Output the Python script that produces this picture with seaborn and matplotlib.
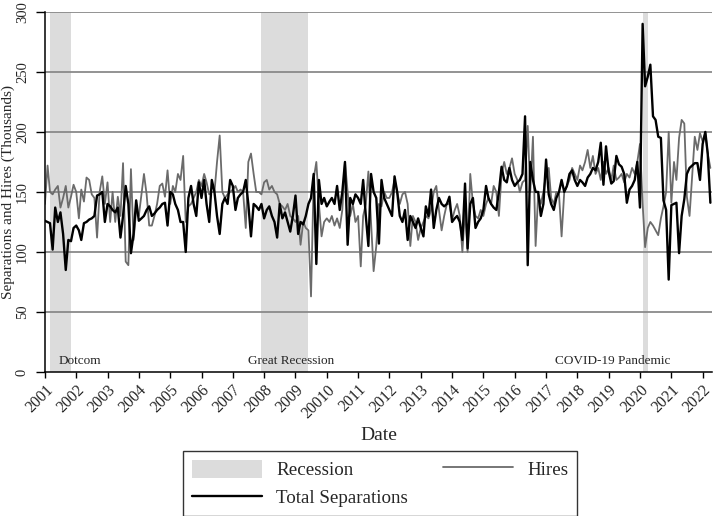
import pandas as pd
import matplotlib
matplotlib.use("Agg")
import matplotlib.pyplot as plt
from matplotlib.patches import Patch
from matplotlib.lines import Line2D
import seaborn as sns

# monthly values, Jan 2001 - Apr 2022 (thousands)
hires = [
    140, 172, 150, 148, 152, 155, 137, 145, 155, 137, 146, 156,  # 2001
    150, 128, 152, 142, 162, 160, 148, 145, 112, 150, 163, 140,  # 2002
    158, 125, 150, 125, 146, 130, 174, 92, 89, 169, 110, 135,    # 2003
    130, 148, 165, 148, 122, 122, 130, 140, 155, 157, 146, 168,  # 2004
    140, 155, 150, 165, 160, 180, 125, 138, 140, 145, 150, 160,  # 2005
    155, 165, 158, 148, 150, 150, 175, 197, 150, 145, 148, 150,  # 2006
    152, 155, 150, 152, 150, 120, 175, 182, 165, 150, 150, 148,  # 2007
    158, 160, 152, 155, 150, 148, 140, 138, 135, 140, 130, 128,  # 2008
    125, 130, 106, 125, 120, 118, 63, 161, 175, 140, 113, 125,   # 2009
    128, 125, 130, 122, 128, 120, 135, 175, 150, 130, 140, 125,  # 2010
    130, 88, 130, 140, 167, 125, 84, 105, 140, 138, 150, 145,    # 2011
    145, 150, 160, 150, 140, 148, 150, 140, 105, 130, 125, 110,  # 2012
    120, 125, 130, 128, 135, 150, 155, 135, 118, 130, 140, 140,  # 2013
    127, 135, 140, 130, 100, 135, 100, 165, 140, 130, 128, 135,  # 2014
    130, 140, 145, 140, 155, 150, 130, 165, 175, 165, 170, 178,  # 2015
    165, 160, 150, 158, 160, 205, 150, 196, 105, 148, 140, 150,  # 2016
    165, 170, 145, 140, 150, 148, 113, 150, 155, 160, 170, 165,  # 2017
    160, 172, 168, 175, 185, 170, 180, 165, 170, 160, 175, 165,  # 2018
    170, 160, 172, 160, 162, 165, 158, 165, 162, 170, 165, 175,  # 2019
    190, 140, 104, 120, 125, 122, 118, 114, 128, 138, 150, 200,  # 2020
    141, 175, 160, 195, 210, 207, 146, 130, 163, 196, 185, 199,  # 2021
    192, 199, 182, 170,                                          # 2022
]
separations = [
    126, 125, 124, 102, 137, 125, 133, 115, 85, 110, 109, 120,   # 2001
    122, 118, 110, 124, 125, 127, 128, 130, 147, 148, 150, 125,  # 2002
    140, 138, 135, 133, 137, 112, 130, 155, 140, 99, 115, 143,   # 2003
    126, 128, 130, 135, 138, 130, 132, 135, 137, 140, 141, 122,  # 2004
    150, 148, 140, 135, 125, 125, 100, 145, 155, 140, 130, 158,  # 2005
    145, 160, 140, 125, 160, 150, 130, 115, 140, 145, 140, 160,  # 2006
    155, 135, 145, 148, 150, 160, 140, 113, 140, 138, 135, 140,  # 2007
    128, 135, 138, 130, 125, 112, 140, 128, 133, 125, 117, 130,  # 2008
    147, 115, 125, 123, 130, 140, 145, 165, 90, 160, 140, 145,   # 2009
    138, 142, 145, 140, 155, 135, 150, 175, 106, 145, 140, 148,  # 2010
    145, 140, 160, 130, 105, 165, 150, 145, 107, 160, 145, 140,  # 2011
    135, 130, 163, 150, 130, 125, 135, 110, 130, 125, 120, 128,  # 2012
    120, 113, 138, 130, 152, 120, 135, 145, 140, 138, 140, 146,  # 2013
    125, 128, 130, 125, 110, 157, 103, 140, 145, 120, 125, 128,  # 2014
    135, 155, 145, 140, 137, 135, 150, 171, 160, 158, 170, 160,  # 2015
    155, 158, 160, 165, 213, 89, 175, 160, 150, 150, 130, 140,   # 2016
    177, 148, 140, 135, 145, 150, 160, 150, 155, 165, 168, 160,  # 2017
    155, 160, 158, 155, 162, 165, 170, 168, 175, 191, 156, 188,  # 2018
    167, 157, 159, 180, 173, 171, 165, 141, 152, 155, 160, 175,  # 2019
    137, 290, 238, 246, 256, 213, 210, 196, 195, 143, 135, 77,   # 2020
    139, 140, 141, 99, 130, 144, 165, 170, 172, 174, 174, 160,   # 2021
    190, 200, 182, 141,                                          # 2022
]

recession_names = ["Dotcom", "Great Recession", "COVID-19 Pandemic"]
recession_start = ["2001-03-01", "2007-12-01", "2020-02-01"]
recession_end = ["2001-11-01", "2009-06-01", "2020-04-01"]
label_x = ["2002-02-15", "2008-11-15", "2019-02-15"]

years = list(range(2001, 2023))
year_labels = [str(y) for y in years]
year_labels[years.index(2010)] = "20010"  # as printed on the original

dates = pd.date_range("2001-01-01", periods=len(hires), freq="MS")
df = pd.DataFrame({"date": dates, "Hires": hires, "Total Separations": separations})

sns.set_style("white")
plt.rcParams["font.family"] = ["Liberation Serif", "DejaVu Serif"]

fig = plt.figure(figsize=(7.13, 5.16), dpi=100)
ax = fig.add_axes([0.063, 0.279, 0.9356, 0.698])

for s, e in zip(recession_start, recession_end):
    ax.axvspan(pd.Timestamp(s), pd.Timestamp(e), color="#dcdcdc", lw=0, zorder=0)

for y in range(50, 301, 50):
    ax.axhline(y, color="#8a8a8a", lw=1.3, zorder=1)

sns.lineplot(data=df, x="date", y="Hires", color="#6b6b6b", lw=1.3, ax=ax, zorder=2)
sns.lineplot(data=df, x="date", y="Total Separations", color="black", lw=1.7, ax=ax, zorder=3)

for name, lx in zip(recession_names, label_x):
    ax.text(pd.Timestamp(lx), 9, name, ha="center", va="center", fontsize=9.5)

ax.set_ylim(0, 300)
ax.set_xlim(dates[0], pd.Timestamp("2022-04-20"))
ax.set_yticks(range(0, 301, 50))
ax.set_yticklabels([str(v) for v in range(0, 301, 50)], rotation=90, va="center")
ax.set_xticks([pd.Timestamp(f"{y}-01-01") for y in years])
ax.set_xticklabels(year_labels, rotation=45, ha="right", rotation_mode="anchor")
ax.tick_params(axis="both", direction="out", width=1, color="black",
               left=True, bottom=True)
ax.tick_params(axis="x", length=4.5, pad=2.5, labelsize=11.5)
ax.tick_params(axis="y", length=6.5, pad=5, labelsize=10.5)

ax.set_xlabel("Date", fontsize=14, labelpad=4)
ax.set_ylabel("Separations and Hires (Thousands)", fontsize=11, labelpad=1)

ax.spines["top"].set_visible(False)
ax.spines["right"].set_visible(False)
ax.spines["left"].set_color("black")
ax.spines["bottom"].set_color("black")
ax.spines["left"].set_linewidth(1.1)
ax.spines["bottom"].set_linewidth(1.1)

handles = [Patch(facecolor="#dcdcdc", edgecolor="none"),
           Line2D([], [], color="black", lw=1.7),
           Line2D([], [], color="#6b6b6b", lw=1.3)]
labels = ["Recession", "Total Separations", "Hires"]
leg = fig.legend(handles, labels, loc="upper left", bbox_to_anchor=(0.257, 0.126),
                 ncol=2, fontsize=13.7, frameon=True, fancybox=False, edgecolor="black",
                 handlelength=3.7, handleheight=1.1, columnspacing=1.8, borderpad=0.45,
                 labelspacing=0.45, handletextpad=0.75, borderaxespad=0)
leg.get_frame().set_linewidth(1.0)

fig.savefig("out.png", dpi=100)
